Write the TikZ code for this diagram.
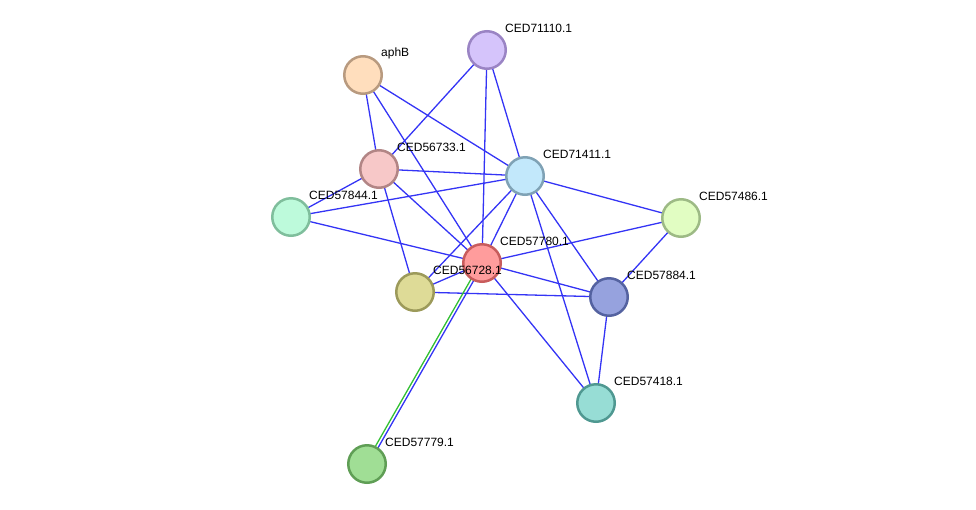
\documentclass[tikz,border=0pt]{standalone}
\usepackage{fontspec}
\setmainfont{Liberation Sans}
\usetikzlibrary{backgrounds}
\definecolor{edgeblue}{HTML}{3434F5}
\definecolor{edgegreen}{HTML}{33C033}
\tikzset{
  prot/.style={circle, minimum size=37.5pt, inner sep=0pt, line width=2.5pt},
  lab/.style={anchor=west, font=\fontsize{12pt}{14pt}\selectfont, inner sep=0pt},
  edge/.style={draw=edgeblue, line width=1.3pt},
}
\begin{document}
\begin{tikzpicture}[x=1pt,y=-1pt]
\useasboundingbox (0,0) rectangle (976,509);
\node[prot, fill={rgb,255:red,255;green,222;blue,189}, draw={rgb,255:red,184;green,154;blue,127}] (aphB) at (363,75) {};
\node[prot, fill={rgb,255:red,213;green,196;blue,251}, draw={rgb,255:red,154;green,132;blue,196}] (n71110) at (487,50) {};
\node[prot, fill={rgb,255:red,247;green,200;blue,200}, draw={rgb,255:red,178;green,133;blue,133}] (n56733) at (379,169) {};
\node[prot, fill={rgb,255:red,194;green,232;blue,251}, draw={rgb,255:red,127;green,162;blue,181}] (n71411) at (525,176) {};
\node[prot, fill={rgb,255:red,189;green,250;blue,219}, draw={rgb,255:red,127;green,190;blue,156}] (n57844) at (291,217) {};
\node[prot, fill={rgb,255:red,225;green,253;blue,194}, draw={rgb,255:red,157;green,186;blue,133}] (n57486) at (681,218) {};
\node[prot, fill={rgb,255:red,255;green,156;blue,156}, draw={rgb,255:red,200;green,92;blue,92}] (n57780) at (482,263) {};
\node[prot, fill={rgb,255:red,222;green,219;blue,151}, draw={rgb,255:red,156;green,154;blue,90}] (n56728) at (415,292) {};
\node[prot, fill={rgb,255:red,150;green,162;blue,222}, draw={rgb,255:red,84;green,98;blue,160}] (n57884) at (609,297) {};
\node[prot, fill={rgb,255:red,151;green,221;blue,213}, draw={rgb,255:red,79;green,152;blue,145}] (n57418) at (596,403) {};
\node[prot, fill={rgb,255:red,160;green,222;blue,149}, draw={rgb,255:red,95;green,158;blue,85}] (n57779) at (367,464) {};
\begin{scope}[on background layer]
\draw[edge] (aphB.center) -- (n56733.center);
\draw[edge] (aphB.center) -- (n57780.center);
\draw[edge] (aphB.center) -- (n71411.center);
\draw[edge] (n71110.center) -- (n56733.center);
\draw[edge] (n71110.center) -- (n57780.center);
\draw[edge] (n71110.center) -- (n71411.center);
\draw[edge] (n56733.center) -- (n71411.center);
\draw[edge] (n56733.center) -- (n57844.center);
\draw[edge] (n56733.center) -- (n57780.center);
\draw[edge] (n56733.center) -- (n56728.center);
\draw[edge] (n57844.center) -- (n71411.center);
\draw[edge] (n57844.center) -- (n57780.center);
\draw[edge] (n71411.center) -- (n57486.center);
\draw[edge] (n71411.center) -- (n57780.center);
\draw[edge] (n71411.center) -- (n56728.center);
\draw[edge] (n71411.center) -- (n57884.center);
\draw[edge] (n71411.center) -- (n57418.center);
\draw[edge] (n57486.center) -- (n57780.center);
\draw[edge] (n57486.center) -- (n57884.center);
\draw[edge] (n57780.center) -- (n57884.center);
\draw[edge] (n57780.center) -- (n56728.center);
\draw[edge] (n57780.center) -- (n57418.center);
\draw[edge] (n56728.center) -- (n57884.center);
\draw[edge] (n57884.center) -- (n57418.center);
\draw[edge, draw=edgegreen, transform canvas={shift={(-1.3pt,0.75pt)}}] (n57780.center) -- (n57779.center);
\draw[edge, transform canvas={shift={(1.3pt,-0.75pt)}}] (n57780.center) -- (n57779.center);
\end{scope}
\node[lab] (laphB) at (381,53) {aphB};
\node[lab] (l71110) at (505,28) {CED71110.1};
\node[lab] (l56733) at (397,147) {CED56733.1};
\node[lab] (l71411) at (543,154) {CED71411.1};
\node[lab] (l57844) at (309,195) {CED57844.1};
\node[lab] (l57486) at (699,196) {CED57486.1};
\node[lab] (l57780) at (500,241) {CED57780.1};
\node[lab] (l56728) at (433,270) {CED56728.1};
\node[lab] (l57884) at (627,275) {CED57884.1};
\node[lab] (l57418) at (614,381) {CED57418.1};
\node[lab] (l57779) at (385,442) {CED57779.1};
\end{tikzpicture}
\end{document}
